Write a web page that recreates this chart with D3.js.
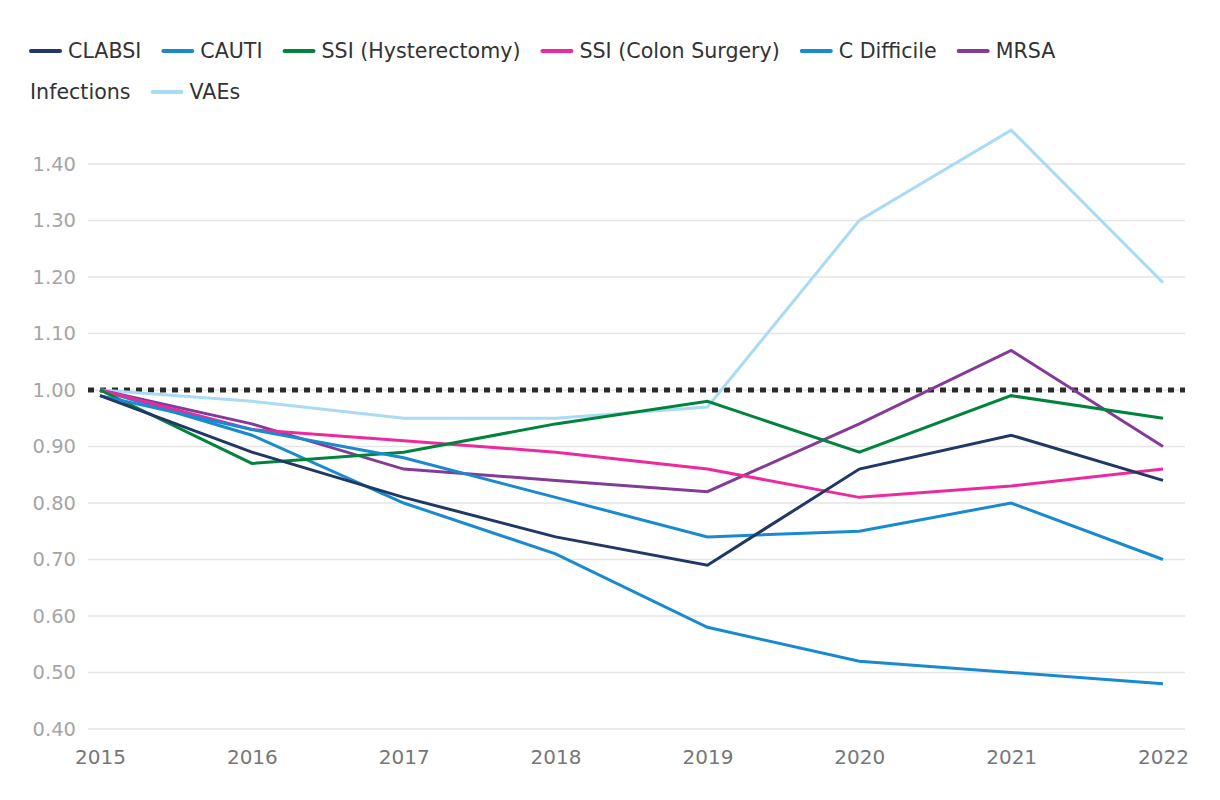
<!DOCTYPE html>
<html>
<head>
<meta charset="utf-8">
<script src="https://cdn.jsdelivr.net/npm/d3@7"></script>
<style>
  body { margin: 0; background: #fff; }
  svg { font-family: "DejaVu Sans", sans-serif; }
</style>
</head>
<body>
<svg id="chart" width="1220" height="800"></svg>
<script>
const years = [2015, 2016, 2017, 2018, 2019, 2020, 2021, 2022];
const yTicks = [0.4, 0.5, 0.6, 0.7, 0.8, 0.9, 1.0, 1.1, 1.2, 1.3, 1.4];

const clabsi = [0.99, 0.89, 0.81, 0.74, 0.69, 0.86, 0.92, 0.84];
const cauti = [0.99, 0.93, 0.88, 0.81, 0.74, 0.75, 0.80, 0.70];
const ssiHyst = [1.00, 0.87, 0.89, 0.94, 0.98, 0.89, 0.99, 0.95];
const ssiColon = [1.00, 0.93, 0.91, 0.89, 0.86, 0.81, 0.83, 0.86];
const cDiff = [1.00, 0.92, 0.80, 0.71, 0.58, 0.52, 0.50, 0.48];
const mrsa = [1.00, 0.94, 0.86, 0.84, 0.82, 0.94, 1.07, 0.90];
const vaes = [1.00, 0.98, 0.95, 0.95, 0.97, 1.30, 1.46, 1.19];
const baseline = 1.0;

// legend order; "Infections" has no line
const series = [
  { name: "CLABSI", values: clabsi, color: "#1f3864" },
  { name: "CAUTI", values: cauti, color: "#1a8ad0" },
  { name: "SSI (Hysterectomy)", values: ssiHyst, color: "#00843d" },
  { name: "SSI (Colon Surgery)", values: ssiColon, color: "#ec2a9d" },
  { name: "C Difficile", values: cDiff, color: "#1a8ad0" },
  { name: "MRSA", values: mrsa, color: "#843b97" },
  { name: "Infections", values: null, color: null },
  { name: "VAEs", values: vaes, color: "#a9dbf5" },
];

const svg = d3.select("#chart");
const left = 88, right = 1185;

const x = d3.scalePoint().domain(years).range([100, 1163]);
const y = d3.scaleLinear().domain([0.4, 1.4]).range([729, 164]);

// gridlines
svg.append("g")
  .selectAll("line")
  .data(yTicks)
  .join("line")
  .attr("x1", left)
  .attr("x2", right)
  .attr("y1", (d) => y(d))
  .attr("y2", (d) => y(d))
  .attr("stroke", "#e5e5e5")
  .attr("stroke-width", 1.5);

// y axis labels
const yAxis = svg.append("g")
  .attr("transform", "translate(76,0)")
  .call(d3.axisLeft(y).tickValues(yTicks).tickFormat(d3.format(".2f")).tickSize(0).tickPadding(0));
yAxis.select(".domain").remove();
yAxis.selectAll("text")
  .attr("fill", "#a5a5a5")
  .style("font-size", "19.5px")
  .style("font-family", "DejaVu Sans, sans-serif");

// x axis labels
const xAxis = svg.append("g")
  .attr("transform", "translate(0,757)")
  .call(d3.axisBottom(x).tickSize(0).tickPadding(0));
xAxis.select(".domain").remove();
xAxis.selectAll("text")
  .attr("dy", "0.35em")
  .attr("fill", "#777")
  .style("font-size", "20px")
  .style("font-family", "DejaVu Sans, sans-serif");

// dotted 1.00 line
svg.append("line")
  .attr("x1", left)
  .attr("x2", right)
  .attr("y1", y(baseline))
  .attr("y2", y(baseline))
  .attr("stroke", "#2b2b2b")
  .attr("stroke-width", 5)
  .attr("stroke-dasharray", "6,6");

const line = d3.line()
  .x((d, i) => x(years[i]))
  .y((d) => y(d));

// draw in reverse legend order so CLABSI ends on top
svg.append("g")
  .selectAll("path")
  .data(series.filter((s) => s.values).reverse())
  .join("path")
  .attr("d", (s) => line(s.values))
  .attr("fill", "none")
  .attr("stroke", (s) => s.color)
  .attr("stroke-width", 3)
  .attr("stroke-linejoin", "miter");

// legend, flowing left to right and wrapping
const legend = svg.append("g");
let lx = 30, ly = 51;
const swatch = 31, maxX = 1120;
series.forEach((s) => {
  const g = legend.append("g");
  let tx = 0;
  if (s.color) {
    g.append("line")
      .attr("x1", 1).attr("x2", swatch - 1)
      .attr("y1", 0).attr("y2", 0)
      .attr("stroke", s.color)
      .attr("stroke-width", 4)
      .attr("stroke-linecap", "round");
    tx = swatch + 7;
  }
  const t = g.append("text")
    .attr("x", tx)
    .attr("dy", "0.35em")
    .attr("fill", "#333")
    .style("font-size", "20.6px")
    .text(s.name);
  const w = tx + t.node().getComputedTextLength();
  if (lx + w > maxX) {
    lx = 30;
    ly += 41;
  }
  g.attr("transform", `translate(${lx},${ly})`);
  lx += w + 21;
});
</script>
</body>
</html>
